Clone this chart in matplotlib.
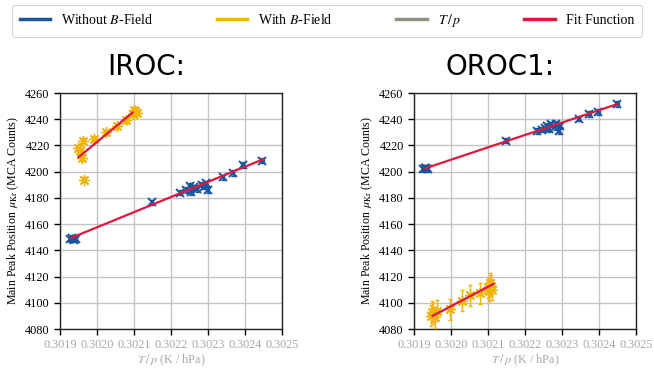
import numpy as np
import matplotlib
matplotlib.use("Agg")
import matplotlib.pyplot as plt
from matplotlib.lines import Line2D
from matplotlib.ticker import FormatStrFormatter

plt.rcParams["font.family"] = ["Liberation Serif", "DejaVu Serif"]
plt.rcParams["mathtext.fontset"] = "stix"

BLUE = "#17569f"
YELLOW = "#f0b40a"
GRAY = "#919182"
RED = "#e0173f"
TICKGRAY = "#a8a8a8"

# ---------------- IROC ----------------
iroc_off_x = [0.301928, 0.301933, 0.301938, 0.301942,
              0.302149,
              0.302225, 0.302240, 0.302250, 0.302255, 0.302262,
              0.302270, 0.302285, 0.302290, 0.302300, 0.302295,
              0.302340, 0.302368, 0.302394, 0.302447]
iroc_off_y = [4148.5, 4149.5, 4148.0, 4149.0,
              4176.7,
              4184.0, 4186.0, 4189.0, 4184.5, 4188.0,
              4186.5, 4190.0, 4188.5, 4186.0, 4191.0,
              4195.7, 4199.0, 4205.0, 4208.4]

iroc_on_x = [0.301950, 0.301955, 0.301963, 0.301959, 0.301965,
             0.301993, 0.302024, 0.302053, 0.302078,
             0.302098, 0.302103, 0.302108, 0.302100]
iroc_on_y = [4218.0, 4216.0, 4223.5, 4210.4, 4194.0,
             4225.0, 4230.0, 4234.5, 4239.5,
             4244.0, 4246.5, 4245.0, 4247.0]

# fit: reference x, value there, slope, x-range
iroc_off_fit = (0.30193, 4149.5, 115500.0, 0.30193, 0.302449)
iroc_on_fit = (0.30195, 4211.0, 233000.0, 0.30195, 0.302096)

# ---------------- OROC1 ----------------
oroc_off_x = [0.301925, 0.301932, 0.301938, 0.301930,
              0.302150,
              0.302232, 0.302245, 0.302255, 0.302260, 0.302265,
              0.302270, 0.302280, 0.302285, 0.302292, 0.302295,
              0.302346, 0.302374, 0.302398, 0.302450]
oroc_off_y = [4202.0, 4202.5, 4202.0, 4203.0,
              4223.5,
              4231.0, 4232.0, 4233.0, 4235.0, 4232.5,
              4236.0, 4234.0, 4236.5, 4231.0, 4235.0,
              4240.5, 4244.0, 4245.6, 4251.6]

oroc_on_x = [0.301945, 0.301952, 0.301958, 0.301962, 0.301948,
             0.301997, 0.302029, 0.302051, 0.302078,
             0.302100, 0.302105, 0.302110, 0.302108, 0.302103]
oroc_on_y = [4090.0, 4092.0, 4089.0, 4094.0, 4093.0,
             4095.0, 4101.5, 4105.9, 4107.4,
             4112.0, 4115.0, 4110.0, 4113.0, 4109.0]

oroc_off_fit = (0.30193, 4202.5, 94400.0, 0.30193, 0.302450)
oroc_on_fit = (0.30195, 4090.0, 148000.0, 0.30195, 0.302115)

x_ticks = [0.3019, 0.3020, 0.3021, 0.3022, 0.3023, 0.3024, 0.3025]
y_ticks = [4080, 4100, 4120, 4140, 4160, 4180, 4200, 4220, 4240, 4260]

fig = plt.figure(figsize=(6.54, 3.68), dpi=100)
ax_l = fig.add_axes([60 / 654, 39 / 368, 222 / 654, 236 / 368])
ax_r = fig.add_axes([414 / 654, 39 / 368, 222 / 654, 236 / 368])


def draw_panel(ax, off_x, off_y, on_x, on_y, off_fit, on_fit, on_yerr):
    ax.errorbar(off_x, off_y, xerr=0.0000035, yerr=2.0, fmt="none",
                ecolor=BLUE, elinewidth=1.0, capsize=1.5, zorder=3)
    ax.plot(off_x, off_y, ls="none", marker="x", ms=5.5, mew=1.4,
            color=BLUE, zorder=3)
    ax.errorbar(on_x, on_y, yerr=on_yerr, fmt="none", ecolor=YELLOW,
                elinewidth=1.0, capsize=1.5, zorder=3)
    ax.plot(on_x, on_y, ls="none", marker=(8, 2, 0), ms=8, mew=1.0,
            color=YELLOW, zorder=3)
    for x0, y0, k, xa, xb in (off_fit, on_fit):
        xs = np.array([xa, xb])
        ax.plot(xs, y0 + k * (xs - x0), color=RED, lw=1.6, zorder=4)

    ax.set_xlim(0.3019, 0.3025)
    ax.set_ylim(4080, 4260)
    ax.set_xticks(x_ticks)
    ax.set_yticks(y_ticks)
    ax.xaxis.set_major_formatter(FormatStrFormatter("%.4f"))
    ax.grid(True, color="#c4c4c4", lw=1.0, zorder=0)
    ax.set_axisbelow(True)
    ax.tick_params(axis="both", direction="out", length=4.5, width=1,
                   colors="black", labelsize=8.8, pad=3)
    ax.tick_params(axis="x", labelcolor=TICKGRAY)
    for s in ax.spines.values():
        s.set_color("#222222")
        s.set_linewidth(1.0)
    ax.set_xlabel(r"$T\,/\,p$ (K / hPa)", color=TICKGRAY, fontsize=8.8,
                  labelpad=1)
    ax.set_ylabel(r"Main Peak Position $\,\mu_{\mathrm{Kr}}$ (MCA Counts)",
                  fontsize=8.6, labelpad=2.5)


draw_panel(ax_l, iroc_off_x, iroc_off_y, iroc_on_x, iroc_on_y,
           iroc_off_fit, iroc_on_fit, 2.0)
draw_panel(ax_r, oroc_off_x, oroc_off_y, oroc_on_x, oroc_on_y,
           oroc_off_fit, oroc_on_fit, 8.0)

fig.text(146 / 654, 1 - 67 / 368, "IROC:", family="DejaVu Sans",
         fontsize=20, ha="center", va="center")
fig.text(500 / 654, 1 - 67 / 368, "OROC1:", family="DejaVu Sans",
         fontsize=20, ha="center", va="center")

handles = [Line2D([], [], color=BLUE, lw=2.5),
           Line2D([], [], color=YELLOW, lw=2.5),
           Line2D([], [], color=GRAY, lw=2.5),
           Line2D([], [], color=RED, lw=2.5)]
labels = [r"Without $B$-Field", r"With $B$-Field", r"$T\,/\,p$",
          "Fit Function"]
leg = fig.legend(handles, labels, loc="lower left", ncol=4, mode="expand",
                 bbox_to_anchor=(12 / 654, 1 - 37 / 368, 630 / 654, 30 / 368),
                 fontsize=10, frameon=True, fancybox=True, handlelength=2.2,
                 borderaxespad=0.0, handletextpad=0.8, borderpad=0.55)
leg.get_frame().set_edgecolor("#cccccc")
leg.get_frame().set_linewidth(0.8)

fig.savefig("out.png", dpi=100)
